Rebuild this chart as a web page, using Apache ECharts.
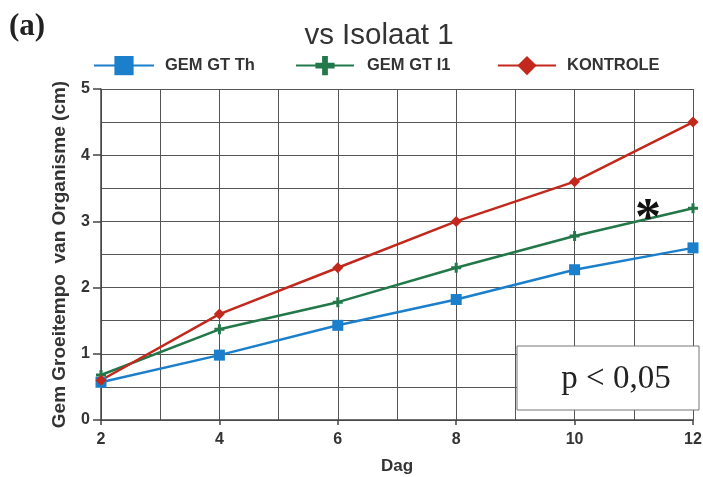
<!DOCTYPE html>
<html>
<head>
<meta charset="utf-8">
<script src="https://cdn.jsdelivr.net/npm/echarts@6/dist/echarts.min.js"></script>
<style>html,body{margin:0;padding:0;background:#fff}#c{width:703px;height:477px}</style>
</head>
<body>
<div id="c"></div>
<script>
var days = [2, 4, 6, 8, 10, 12];
var gemGtTh = [0.57, 0.98, 1.43, 1.82, 2.27, 2.60];
var gemGtI1 = [0.68, 1.37, 1.78, 2.30, 2.78, 3.20];
var kontrole = [0.60, 1.60, 2.30, 3.00, 3.60, 4.50];
var seriesNames = ['GEM GT Th', 'GEM GT I1', 'KONTROLE'];

function pairs(v) { return days.map(function (d, i) { return [d, v[i]]; }); }

var plus = 'path://M3.5,0H6.5V3.5H10V6.5H6.5V10H3.5V6.5H0V3.5H3.5Z';
var labelFont = 'Liberation Sans, Arial, sans-serif';
var legendText = { fontFamily: labelFont, fontSize: 16.5, fontWeight: 'bold', color: '#333' };

var chart = echarts.init(document.getElementById('c'));
chart.setOption({
  animation: false,
  backgroundColor: '#fff',
  title: {
    text: 'vs Isolaat 1',
    left: 374, top: 16, textAlign: 'center',
    textStyle: { fontFamily: labelFont, fontSize: 29.5, fontWeight: 'normal', color: '#333' }
  },
  legend: [
    { data: [seriesNames[0]], left: 88, top: 51, itemWidth: 60, itemHeight: 24,
      textStyle: Object.assign({ padding: [0, 0, 0, 6] }, legendText) },
    { data: [seriesNames[1]], left: 290, top: 51, itemWidth: 58, itemHeight: 24,
      textStyle: Object.assign({ padding: [0, 0, 0, 8] }, legendText) },
    { data: [seriesNames[2]], left: 492, top: 51, itemWidth: 58, itemHeight: 24,
      textStyle: Object.assign({ padding: [0, 0, 0, 6] }, legendText) }
  ],
  grid: { left: 101, right: 10, top: 89, bottom: 57, containLabel: false, outerBoundsMode: 'none' },
  xAxis: {
    type: 'value', min: 2, max: 12, interval: 2,
    name: 'Dag', nameLocation: 'middle', nameGap: 38,
    nameTextStyle: { fontFamily: labelFont, fontSize: 17, fontWeight: 'bold', color: '#333' },
    axisLine: { show: true, lineStyle: { color: '#444', width: 1.5 } },
    axisTick: { show: true, length: 5, lineStyle: { color: '#444', width: 1.5 } },
    axisLabel: { fontFamily: labelFont, fontSize: 16, fontWeight: 'bold', color: '#333', margin: 12 },
    splitLine: { show: true, lineStyle: { color: '#555', width: 1 } },
    minorTick: { show: false, splitNumber: 2 },
    minorSplitLine: { show: true, lineStyle: { color: '#555', width: 1 } }
  },
  yAxis: {
    type: 'value', min: 0, max: 5, interval: 1,
    name: 'Gem Groeitempo  van Organisme (cm)', nameLocation: 'middle', nameGap: 32,
    nameTextStyle: { fontFamily: labelFont, fontSize: 19, fontWeight: 'bold', color: '#333' },
    axisLine: { show: true, lineStyle: { color: '#444', width: 1.5 } },
    axisTick: { show: true, length: 8, lineStyle: { color: '#444', width: 1.5 } },
    axisLabel: { fontFamily: labelFont, fontSize: 16, fontWeight: 'bold', color: '#333', margin: 11 },
    splitLine: { show: true, lineStyle: { color: '#555', width: 1 } },
    minorTick: { show: false, splitNumber: 2 },
    minorSplitLine: { show: true, lineStyle: { color: '#555', width: 1 } }
  },
  series: [
    { name: seriesNames[0], type: 'line', data: pairs(gemGtTh), symbol: 'rect', symbolSize: 11,
      itemStyle: { color: '#1c7fcc' }, lineStyle: { color: '#1c7fcc', width: 2.5 } },
    { name: seriesNames[1], type: 'line', data: pairs(gemGtI1), symbol: plus, symbolSize: 10,
      itemStyle: { color: '#23784a' }, lineStyle: { color: '#23784a', width: 2.5 } },
    { name: seriesNames[2], type: 'line', data: pairs(kontrole), symbol: 'diamond', symbolSize: 11,
      itemStyle: { color: '#c3281c' }, lineStyle: { color: '#c3281c', width: 2.5 } }
  ],
  graphic: [
    { type: 'text', left: 9, top: 11,
      style: { text: '(a)', font: 'bold 31px "Liberation Serif", "Times New Roman", serif', fill: '#222' } },
    { type: 'rect', shape: { x: 517, y: 346, width: 182, height: 64 },
      style: { fill: '#fff', stroke: '#777', lineWidth: 1 }, z: 100 },
    { type: 'text', x: 616, y: 379, z: 101,
      style: { text: 'p < 0,05', font: '33px "Liberation Serif", "Times New Roman", serif', fill: '#222',
               textAlign: 'center', textVerticalAlign: 'middle' } },
    { type: 'text', x: 648, y: 221, z: 101,
      style: { text: '*', font: 'bold 52px "Liberation Serif", "Times New Roman", serif', fill: '#111',
               textAlign: 'center', textVerticalAlign: 'middle' } }
  ]
});
</script>
</body>
</html>
